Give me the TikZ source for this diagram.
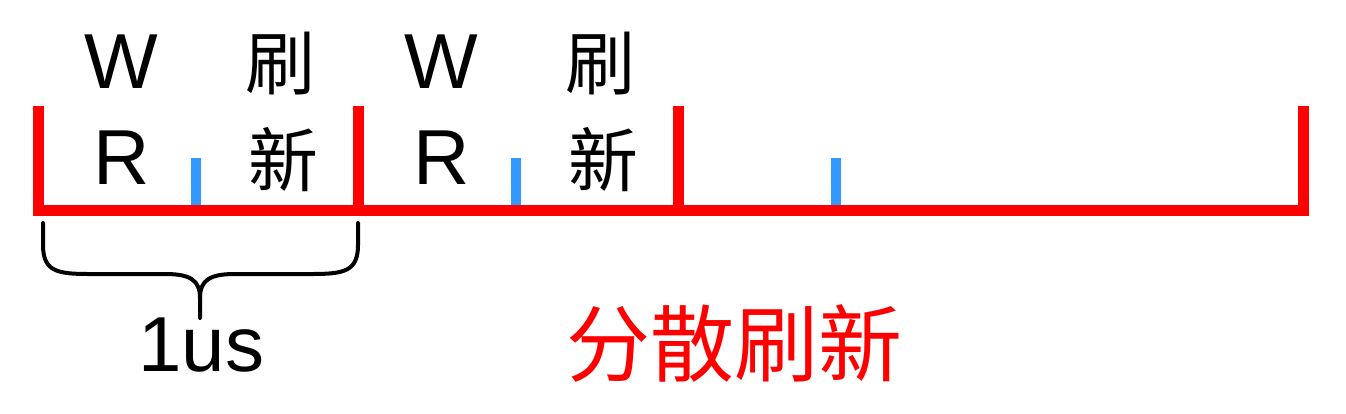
\documentclass[tikz,border=0pt]{standalone}
\usepackage{fontspec}
\setmainfont{Liberation Sans}
\newfontfamily\cjk{Noto Sans CJK SC}
\definecolor{tickblue}{HTML}{3399FF}
\definecolor{linered}{HTML}{FF0000}

\begin{document}
\begin{tikzpicture}[x=1pt,y=-1pt,
  lbl/.style={inner sep=0pt,font=\fontsize{78}{80}\selectfont},
  hz/.style={inner sep=0pt,font=\cjk\fontsize{70}{72}\selectfont}]
  \useasboundingbox (0,0) rectangle (1346,413);

  % blue marks first, so that the red line covers their feet
  \foreach \x in {196,516,836}
    \draw[tickblue,line width=10pt] (\x,158) -- (\x,210.5);
  \draw[linered,line width=11pt] (38.5,106) -- (38.5,210.5) -- (1303.5,210.5) -- (1303.5,106);
  \foreach \x in {358.5,678.5}
    \draw[linered,line width=11pt] (\x,106) -- (\x,210.5);

  \foreach \x/\i in {0/1,320/2} {
    \node[lbl] (w\i) at (121+\x,62) {W};
    \node[lbl] (r\i) at (122+\x,157.5) {R};
    \node[hz] (s\i) at (280+\x,63.5) {刷};
    \node[hz] (n\i) at (283+\x,160) {新};
  }

  % brace under the first slot
  \coordinate (tip) at (200,318);
  \draw[line width=4pt,line cap=round] (43,223) -- (43,245) .. controls (43,272) and (58,274) .. (90,274)
    -- (165,274) .. controls (190,274) and (200,280) .. (200,298) -- (tip);
  \draw[line width=4pt,line cap=round] (358,223) -- (358,245) .. controls (358,272) and (343,274) .. (311,274)
    -- (235,274) .. controls (210,274) and (200,280) .. (200,298);
  \node[lbl] (time) at (201.5,345) {1us};

  \node[inner sep=0pt,text=linered,font=\cjk\fontsize{84}{86}\selectfont] (title) at (734.5,344) {分散刷新};
\end{tikzpicture}
\end{document}
